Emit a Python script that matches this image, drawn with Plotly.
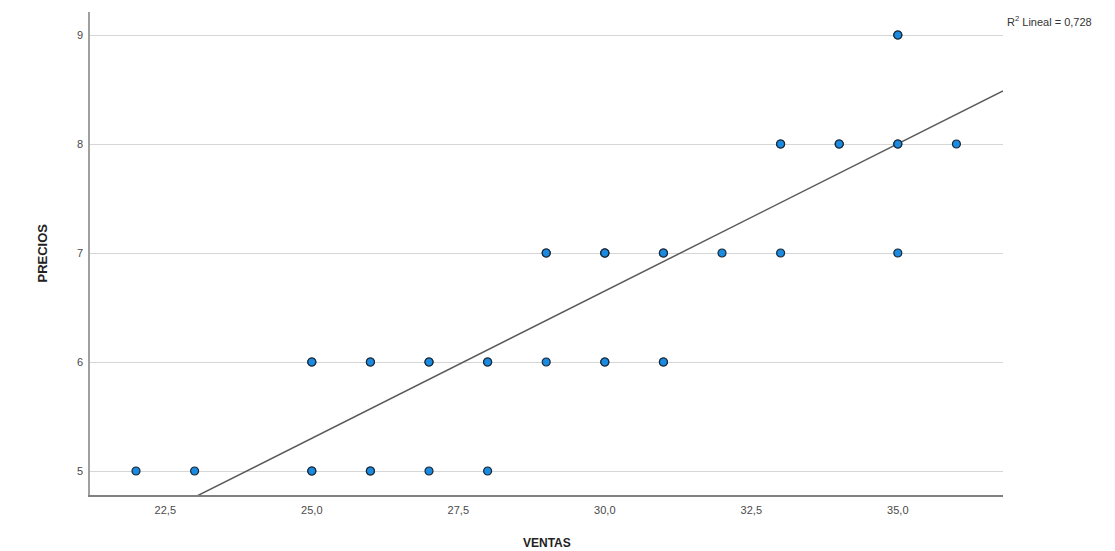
import numpy as np
import plotly.graph_objects as go

# Observations (VENTAS, PRECIOS); repeated pairs are listed once per case
ventas = [35, 35,
          33, 33, 34, 34, 35, 35, 36,
          29, 29, 30, 30, 30, 31, 31, 32, 33, 35,
          25, 25, 26, 26, 27, 27, 28, 28, 29, 30, 30, 31, 31,
          22, 23, 25, 25, 26, 26, 27, 28]
precios = [9, 9,
           8, 8, 8, 8, 8, 8, 8,
           7, 7, 7, 7, 7, 7, 7, 7, 7, 7,
           6, 6, 6, 6, 6, 6, 6, 6, 6, 6, 6, 6, 6,
           5, 5, 5, 5, 5, 5, 5, 5]

x_ticks = [22.5, 25.0, 27.5, 30.0, 32.5, 35.0]
y_ticks = [5, 6, 7, 8, 9]
r2_text = "R<sup>2</sup> Lineal = 0,728"

x_range = [21.215, 36.795]
y_range = [4.78, 9.211]

# Least-squares fit line across the plotted x range
slope, intercept = np.polyfit(ventas, precios, 1)
fit_x = np.array(x_range)
fit_y = intercept + slope * fit_x

fig = go.Figure()

fig.add_trace(go.Scatter(
    x=fit_x, y=fit_y, mode="lines",
    line=dict(color="#5a5a5a", width=1.5),
    hoverinfo="skip", showlegend=False,
))

fig.add_trace(go.Scatter(
    x=ventas, y=precios, mode="markers",
    marker=dict(size=8, color="#1a8be0",
                line=dict(color="#1c2836", width=1.2)),
    showlegend=False,
))

fig.update_layout(
    width=1115, height=551,
    margin=dict(l=90, r=112, t=12, b=56),
    paper_bgcolor="white", plot_bgcolor="white",
    separators=",.",
    font=dict(family="Liberation Sans, Arial, sans-serif", size=11, color="#444"),
)

fig.update_xaxes(
    range=x_range, tickvals=x_ticks, tickformat=".1f",
    showgrid=False, zeroline=False, automargin=False,
    showline=True, linecolor="#808080", linewidth=1.5,
    ticks="", ticklabelstandoff=4,
    tickfont=dict(size=11, color="#4a4a4a"),
)

fig.update_yaxes(
    range=y_range, tickvals=y_ticks,
    showgrid=True, gridcolor="#d6d6d6", gridwidth=1.2,
    zeroline=False, automargin=False,
    showline=True, linecolor="#a0a0a0", linewidth=1.5,
    ticks="", ticklabelstandoff=3,
    tickfont=dict(size=11, color="#4a4a4a"),
)

# Axis titles
fig.add_annotation(
    text="<b>VENTAS</b>", xref="paper", yref="paper",
    x=0.5, y=0, xanchor="center", yanchor="middle", yshift=-48,
    showarrow=False, font=dict(size=12, color="#222"),
)
fig.add_annotation(
    text="<b>PRECIOS</b>", xref="paper", yref="paper",
    x=0, y=0.5, xanchor="center", yanchor="middle", xshift=-48,
    textangle=-90, showarrow=False,
    font=dict(family="Liberation Sans Narrow, Arial Narrow, sans-serif",
              size=13, color="#222"),
)

fig.add_annotation(
    text=r2_text, xref="paper", yref="paper",
    x=1.002, y=1.0, xanchor="left", yanchor="top", yshift=0,
    showarrow=False, font=dict(size=11, color="#333"),
)

fig.write_html("out.html")
